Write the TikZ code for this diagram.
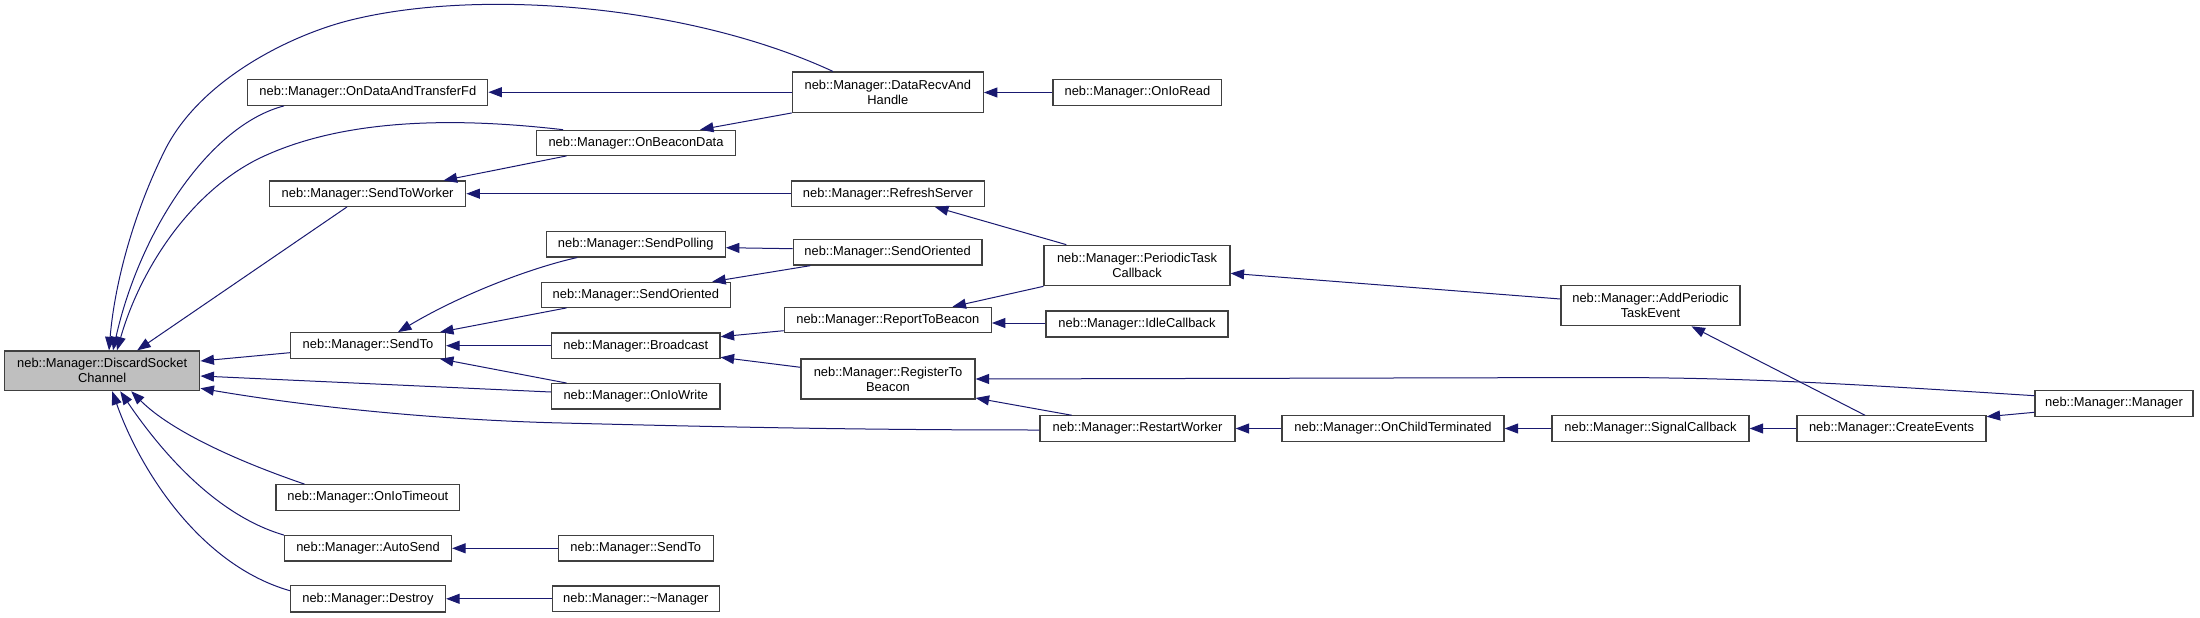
\documentclass[tikz,border=0pt]{standalone}
\usepackage{fontspec}
\setmainfont{Liberation Sans}
\usetikzlibrary{arrows.meta}
\definecolor{edgec}{HTML}{191970}
\definecolor{boxc}{HTML}{404040}
\definecolor{hlc}{HTML}{BFBFBF}
\begin{document}
\begin{tikzpicture}[x=1pt,y=-1pt,
  fn/.style={draw=boxc, line width=1.2pt, fill=white, inner sep=0pt,
    font=\fontsize{12.9}{15}\selectfont, align=center, text=black},
  hl/.style={fn, fill=hlc},
  wh/.style 2 args={minimum width=#1pt, minimum height=#2pt},
  ed/.style={draw=edgec, line width=1pt, -{Triangle[length=13.5pt,width=10pt]}}]
\useasboundingbox (0,0) rectangle (2200,618);
% column 0
\node[hl, wh={195.3}{39.7}] (dsc) at (102.2,370.8) {neb::Manager::DiscardSocket\\Channel};
% column 1
\node[fn, wh={240}{25.6}] (odt) at (367.8,92.5) {neb::Manager::OnDataAndTransferFd};
\node[fn, wh={196.4}{25.3}] (stw) at (367.6,193.7) {neb::Manager::SendToWorker};
\node[fn, wh={155}{25.6}] (sto) at (368,345.5) {neb::Manager::SendTo};
\node[fn, wh={183.8}{25.6}] (oit) at (367.9,497.5) {neb::Manager::OnIoTimeout};
\node[fn, wh={167}{25.3}] (aus) at (368,548.3) {neb::Manager::AutoSend};
\node[fn, wh={155}{26.3}] (des) at (368,598.8) {neb::Manager::Destroy};
% column 2
\node[fn, wh={199}{25}] (obd) at (636,142.8) {neb::Manager::OnBeaconData};
\node[fn, wh={179}{25.3}] (spl) at (635.8,244.3) {neb::Manager::SendPolling};
\node[fn, wh={188.4}{25}] (sol) at (635.9,294.8) {neb::Manager::SendOriented};
\node[fn, wh={168.4}{25.3}] (brc) at (635.8,345.7) {neb::Manager::Broadcast};
\node[fn, wh={168.4}{25.3}] (oiw) at (635.8,396.3) {neb::Manager::OnIoWrite};
\node[fn, wh={155}{25.3}] (st2) at (635.7,548.3) {neb::Manager::SendTo};
\node[fn, wh={167}{25.7}] (dtr) at (635.8,598.8) {neb::Manager::\textasciitilde Manager};
% column 3
\node[fn, wh={191}{40.3}] (drh) at (887.8,92.2) {neb::Manager::DataRecvAnd\\Handle};
\node[fn, wh={193.6}{25.3}] (rfs) at (887.9,193.7) {neb::Manager::RefreshServer};
\node[fn, wh={188.7}{25.7}] (sor) at (887.6,252.2) {neb::Manager::SendOriented};
\node[fn, wh={207}{25.4}] (rtb) at (887.8,320) {neb::Manager::ReportToBeacon};
\node[fn, wh={174}{40}] (reg) at (888,379) {neb::Manager::RegisterTo\\Beacon};
% column 4
\node[fn, wh={168.8}{25.6}] (oir) at (1137.4,92.5) {neb::Manager::OnIoRead};
\node[fn, wh={186}{40.5}] (ptc) at (1137,265.5) {neb::Manager::PeriodicTask\\Callback};
\node[fn, wh={182}{26}] (idc) at (1137,324) {neb::Manager::IdleCallback};
\node[fn, wh={195}{25.3}] (rsw) at (1137.5,428.5) {neb::Manager::RestartWorker};
% further columns
\node[fn, wh={222}{25.3}] (oct) at (1393,428.5) {neb::Manager::OnChildTerminated};
\node[fn, wh={179}{40.5}] (apt) at (1650.5,305.5) {neb::Manager::AddPeriodic\\TaskEvent};
\node[fn, wh={197}{25.3}] (sgc) at (1650.5,428.5) {neb::Manager::SignalCallback};
\node[fn, wh={189}{25.3}] (ce) at (1891.5,428.5) {neb::Manager::CreateEvents};
\node[fn, wh={158}{25.3}] (mgr) at (2114,403.5) {neb::Manager::Manager};

% edges into DiscardSocketChannel
\draw[ed] ([xshift=-54.8pt]drh.north) .. controls (690,5) and (480,-12) .. (351,20)
  .. controls (290,35) and (200,80) .. (165,150)
  .. controls (135,210) and (115,280) .. ([xshift=6.8pt]dsc.north);
\draw[ed] ([xshift=-83.8pt]odt.south) .. controls (210,125) and (140,230) .. ([xshift=10.8pt]dsc.north);
\draw[ed] ([xshift=-73pt]obd.north) .. controls (470,119) and (350,115) .. (260,158)
  .. controls (190,192) and (140,270) .. ([xshift=14.8pt]dsc.north);
\draw[ed] ([xshift=-20.6pt]stw.south) -- ([xshift=35pt]dsc.north);
\draw[ed] ([yshift=-7.2pt]sto.west) -- ([yshift=9.8pt]dsc.east);
\draw[ed] ([yshift=4.3pt]oiw.west) -- ([yshift=-5.2pt]dsc.east);
\draw[ed] ([yshift=-1.5pt]rsw.west) .. controls (850,430) and (700,426.5) .. (550,422.7)
  .. controls (430,419) and (310,407) .. ([yshift=-17.5pt]dsc.east);
\draw[ed] ([xshift=-63.4pt]oit.north) .. controls (240,462) and (172,432) .. ([xshift=29pt]dsc.south);
\draw[ed] (aus.north west) .. controls (215,515) and (160,450) .. ([xshift=18pt]dsc.south);
\draw[ed] ([yshift=8.1pt]des.west) .. controls (200,565) and (140,470) .. ([xshift=10pt]dsc.south);

% other edges
\draw[ed] (drh.west) -- (drh.west -| odt.east);
\draw[ed] (drh.south west) -- ([xshift=64pt]obd.north);
\draw[ed] (oir.west) -- (oir.west -| drh.east);
\draw[ed] ([xshift=-69.4pt]obd.south) -- ([xshift=76pt]stw.north);
\draw[ed] (rfs.west) -- (rfs.west -| stw.east);
\draw[ed] ([xshift=-58.6pt]spl.south) .. controls (530,268) and (460,295) .. ([xshift=30pt]sto.north);
\draw[ed] ([xshift=-69.3pt]sol.south) -- ([xshift=72pt]sto.north);
\draw[ed] (brc.west) -- (brc.west -| sto.east);
\draw[ed] ([xshift=-69.2pt]oiw.north) -- ([xshift=72pt]sto.south);
\draw[ed] ([yshift=3.5pt]sor.west) -- ([yshift=-3.4pt]spl.east);
\draw[ed] ([xshift=-77.2pt]sor.south) -- ([xshift=76.3pt]sol.north);
\draw[ed] ([yshift=-10.7pt]rtb.west) -- ([yshift=9pt]brc.east);
\draw[ed] ([yshift=11.7pt]reg.west) -- ([yshift=-11.6pt]brc.east);
\draw[ed] ([xshift=-70.7pt]ptc.north) -- ([xshift=47pt]rfs.south);
\draw[ed] (ptc.south west) -- ([xshift=64.7pt]rtb.north);
\draw[ed] ([yshift=1pt]idc.west) -- ([yshift=-3pt]rtb.east);
\draw[ed] ([yshift=7.8pt]mgr.west) .. controls (1850,384) and (1750,377.5) .. (1600,377.5) -- (reg.east);
\draw[ed] ([xshift=-65.8pt]rsw.north) -- ([yshift=-19pt]reg.east);
\draw[ed] ([yshift=6.5pt]apt.west) -- ([yshift=-7.8pt]ptc.east);
\draw[ed] (oct.west) -- (rsw.east);
\draw[ed] (sgc.west) -- (oct.east);
\draw[ed] (ce.west) -- (sgc.east);
\draw[ed] ([xshift=-26.5pt]ce.north) -- ([xshift=41pt]apt.south);
\draw[ed] ([yshift=-8.8pt]mgr.west) -- ([yshift=11.8pt]ce.east);
\draw[ed] (st2.west) -- (aus.east);
\draw[ed] (dtr.west) -- (des.east);
\end{tikzpicture}
\end{document}
